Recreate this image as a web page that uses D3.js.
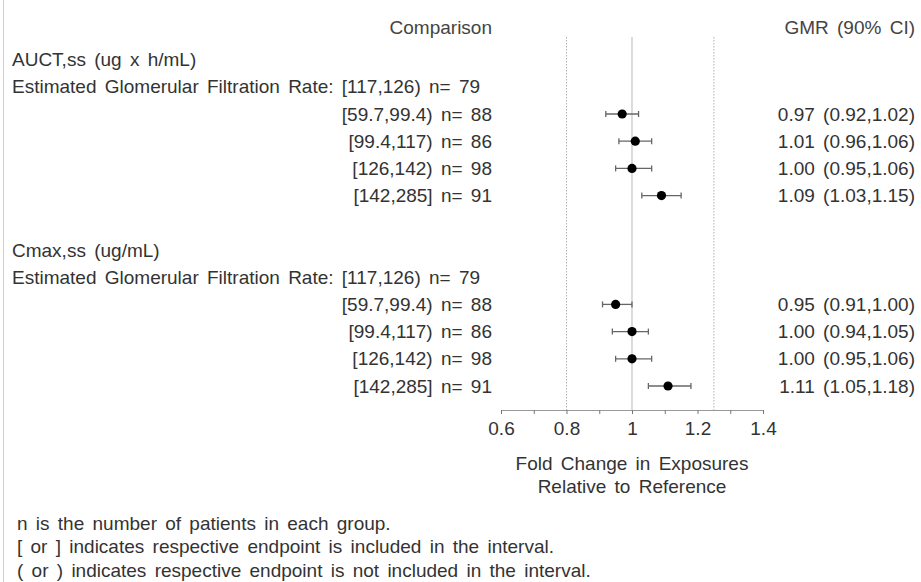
<!DOCTYPE html>
<html><head><meta charset="utf-8">
<script src="https://cdn.jsdelivr.net/npm/d3@7"></script>
<style>
html,body{margin:0;padding:0;background:#fff;}
svg text{font-family:"Liberation Sans",Arial,Helvetica,sans-serif;fill:#333;word-spacing:3px;}
</style></head>
<body><svg id="c" width="921" height="582"></svg>
<script>
// ---- data ----
const groupTitles = ["AUCT,ss (ug x h/mL)", "Cmax,ss (ug/mL)"];
const refRowLabel = "Estimated Glomerular Filtration Rate: [117,126) n= 79";
const intervals = ["[59.7,99.4)", "[99.4,117)", "[126,142)", "[142,285]"];
const nPatients = [88, 86, 98, 91];
const aucGMR  = [0.97, 1.01, 1.00, 1.09];
const aucLow  = [0.92, 0.96, 0.95, 1.03];
const aucHigh = [1.02, 1.06, 1.06, 1.15];
const cmaxGMR  = [0.95, 1.00, 1.00, 1.11];
const cmaxLow  = [0.91, 0.94, 0.95, 1.05];
const cmaxHigh = [1.00, 1.05, 1.06, 1.18];
const xTicks = [0.6, 0.7, 0.8, 0.9, 1.0, 1.1, 1.2, 1.3, 1.4];
const xTickLabels = ["0.6", "", "0.8", "", "1", "", "1.2", "", "1.4"];
const refLines = [0.8, 1.25];
const unityLine = 1;
const axisTitle = ["Fold Change in Exposures", "Relative to Reference"];
const footnotes = [
  "n is the number of patients in each group.",
  "[ or ] indicates respective endpoint is included in the interval.",
  "( or ) indicates respective endpoint is not included in the interval."
];

// ---- layout ----
const svg = d3.select("#c");
const FS = 19;
const x = d3.scaleLinear().domain([0.6, 1.4]).range([501, 763]);
const y = d3.scaleLinear().domain([0, 12]).range([59.6, 386]);
const axisY = 410;
const labelRight = 492, gmrRight = 915, leftX = 12;

// left border
svg.append("line").attr("x1", 3.5).attr("x2", 3.5).attr("y1", 0).attr("y2", 582)
  .attr("stroke", "#cfcfcf").attr("stroke-width", 1);

// headers
svg.append("text").attr("x", labelRight).attr("y", 27).attr("dy", "0.35em")
  .attr("text-anchor", "end").attr("font-size", FS).style("fill", "#444").text("Comparison");
svg.append("text").attr("x", gmrRight).attr("y", 27).attr("dy", "0.35em")
  .attr("text-anchor", "end").attr("font-size", FS).style("fill", "#444").text("GMR (90% CI)");

// reference lines
svg.selectAll(".ref").data(refLines).enter().append("line")
  .attr("x1", d => x(d)).attr("x2", d => x(d)).attr("y1", 37).attr("y2", axisY)
  .attr("stroke", "#b0b0b0").attr("stroke-width", 1).attr("stroke-dasharray", "1.5,1.5");
svg.append("line").attr("x1", x(unityLine)).attr("x2", x(unityLine)).attr("y1", 37).attr("y2", axisY)
  .attr("stroke", "#c4c4c4").attr("stroke-width", 1.2);

// rows
const series = [
  {title: groupTitles[0], gmr: aucGMR, lo: aucLow, hi: aucHigh, start: 0},
  {title: groupTitles[1], gmr: cmaxGMR, lo: cmaxLow, hi: cmaxHigh, start: 7}
];
series.forEach(s => {
  const g = svg.append("g");
  g.append("text").attr("x", leftX).attr("y", y(s.start)).attr("dy", "0.35em")
    .attr("font-size", FS).text(s.title);
  g.append("text").attr("x", leftX).attr("y", y(s.start + 1)).attr("dy", "0.35em")
    .attr("font-size", FS).text(refRowLabel);
  const rows = intervals.map((iv, i) => ({
    iv, n: nPatients[i], m: s.gmr[i], lo: s.lo[i], hi: s.hi[i], r: s.start + 2 + i
  }));
  const r = g.selectAll(".row").data(rows).enter().append("g");
  r.append("text").attr("x", labelRight).attr("y", d => y(d.r)).attr("dy", "0.35em")
    .attr("text-anchor", "end").attr("font-size", FS)
    .text(d => `${d.iv} n= ${d.n}`);
  r.append("text").attr("x", gmrRight).attr("y", d => y(d.r)).attr("dy", "0.35em")
    .attr("text-anchor", "end").attr("font-size", FS)
    .text(d => `${d.m.toFixed(2)} (${d.lo.toFixed(2)},${d.hi.toFixed(2)})`);
  r.append("line").attr("x1", d => x(d.lo)).attr("x2", d => x(d.hi))
    .attr("y1", d => y(d.r)).attr("y2", d => y(d.r))
    .attr("stroke", "#666").attr("stroke-width", 1.3);
  ["lo", "hi"].forEach(k => {
    r.append("line").attr("x1", d => x(d[k])).attr("x2", d => x(d[k]))
      .attr("y1", d => y(d.r) - 3).attr("y2", d => y(d.r) + 3)
      .attr("stroke", "#666").attr("stroke-width", 1.3);
  });
  r.append("circle").attr("cx", d => x(d.m)).attr("cy", d => y(d.r)).attr("r", 4.6)
    .attr("fill", "#000");
});

// x axis
const axis = d3.axisBottom(x).tickValues(xTicks).tickSize(4).tickPadding(8)
  .tickFormat((d, i) => xTickLabels[i]);
const ag = svg.append("g").attr("transform", `translate(0,${axisY})`).call(axis);
ag.select(".domain").attr("stroke", "#999").attr("d", `M${x(0.6)},0.5H${x(1.4)}`);
ag.selectAll(".tick line").attr("stroke", "#777");
ag.selectAll(".tick text").attr("font-size", FS).attr("font-family", null).style("fill", "#333");

svg.selectAll(".atitle").data(axisTitle).enter().append("text")
  .attr("x", x(1)).attr("y", (d, i) => 463 + i * 23).attr("dy", "0.35em")
  .attr("text-anchor", "middle").attr("font-size", FS).text(d => d);

svg.selectAll(".fn").data(footnotes).enter().append("text")
  .attr("x", 17).attr("y", (d, i) => 523 + i * 23.5).attr("dy", "0.35em")
  .attr("font-size", FS).text(d => d);
</script></body></html>
